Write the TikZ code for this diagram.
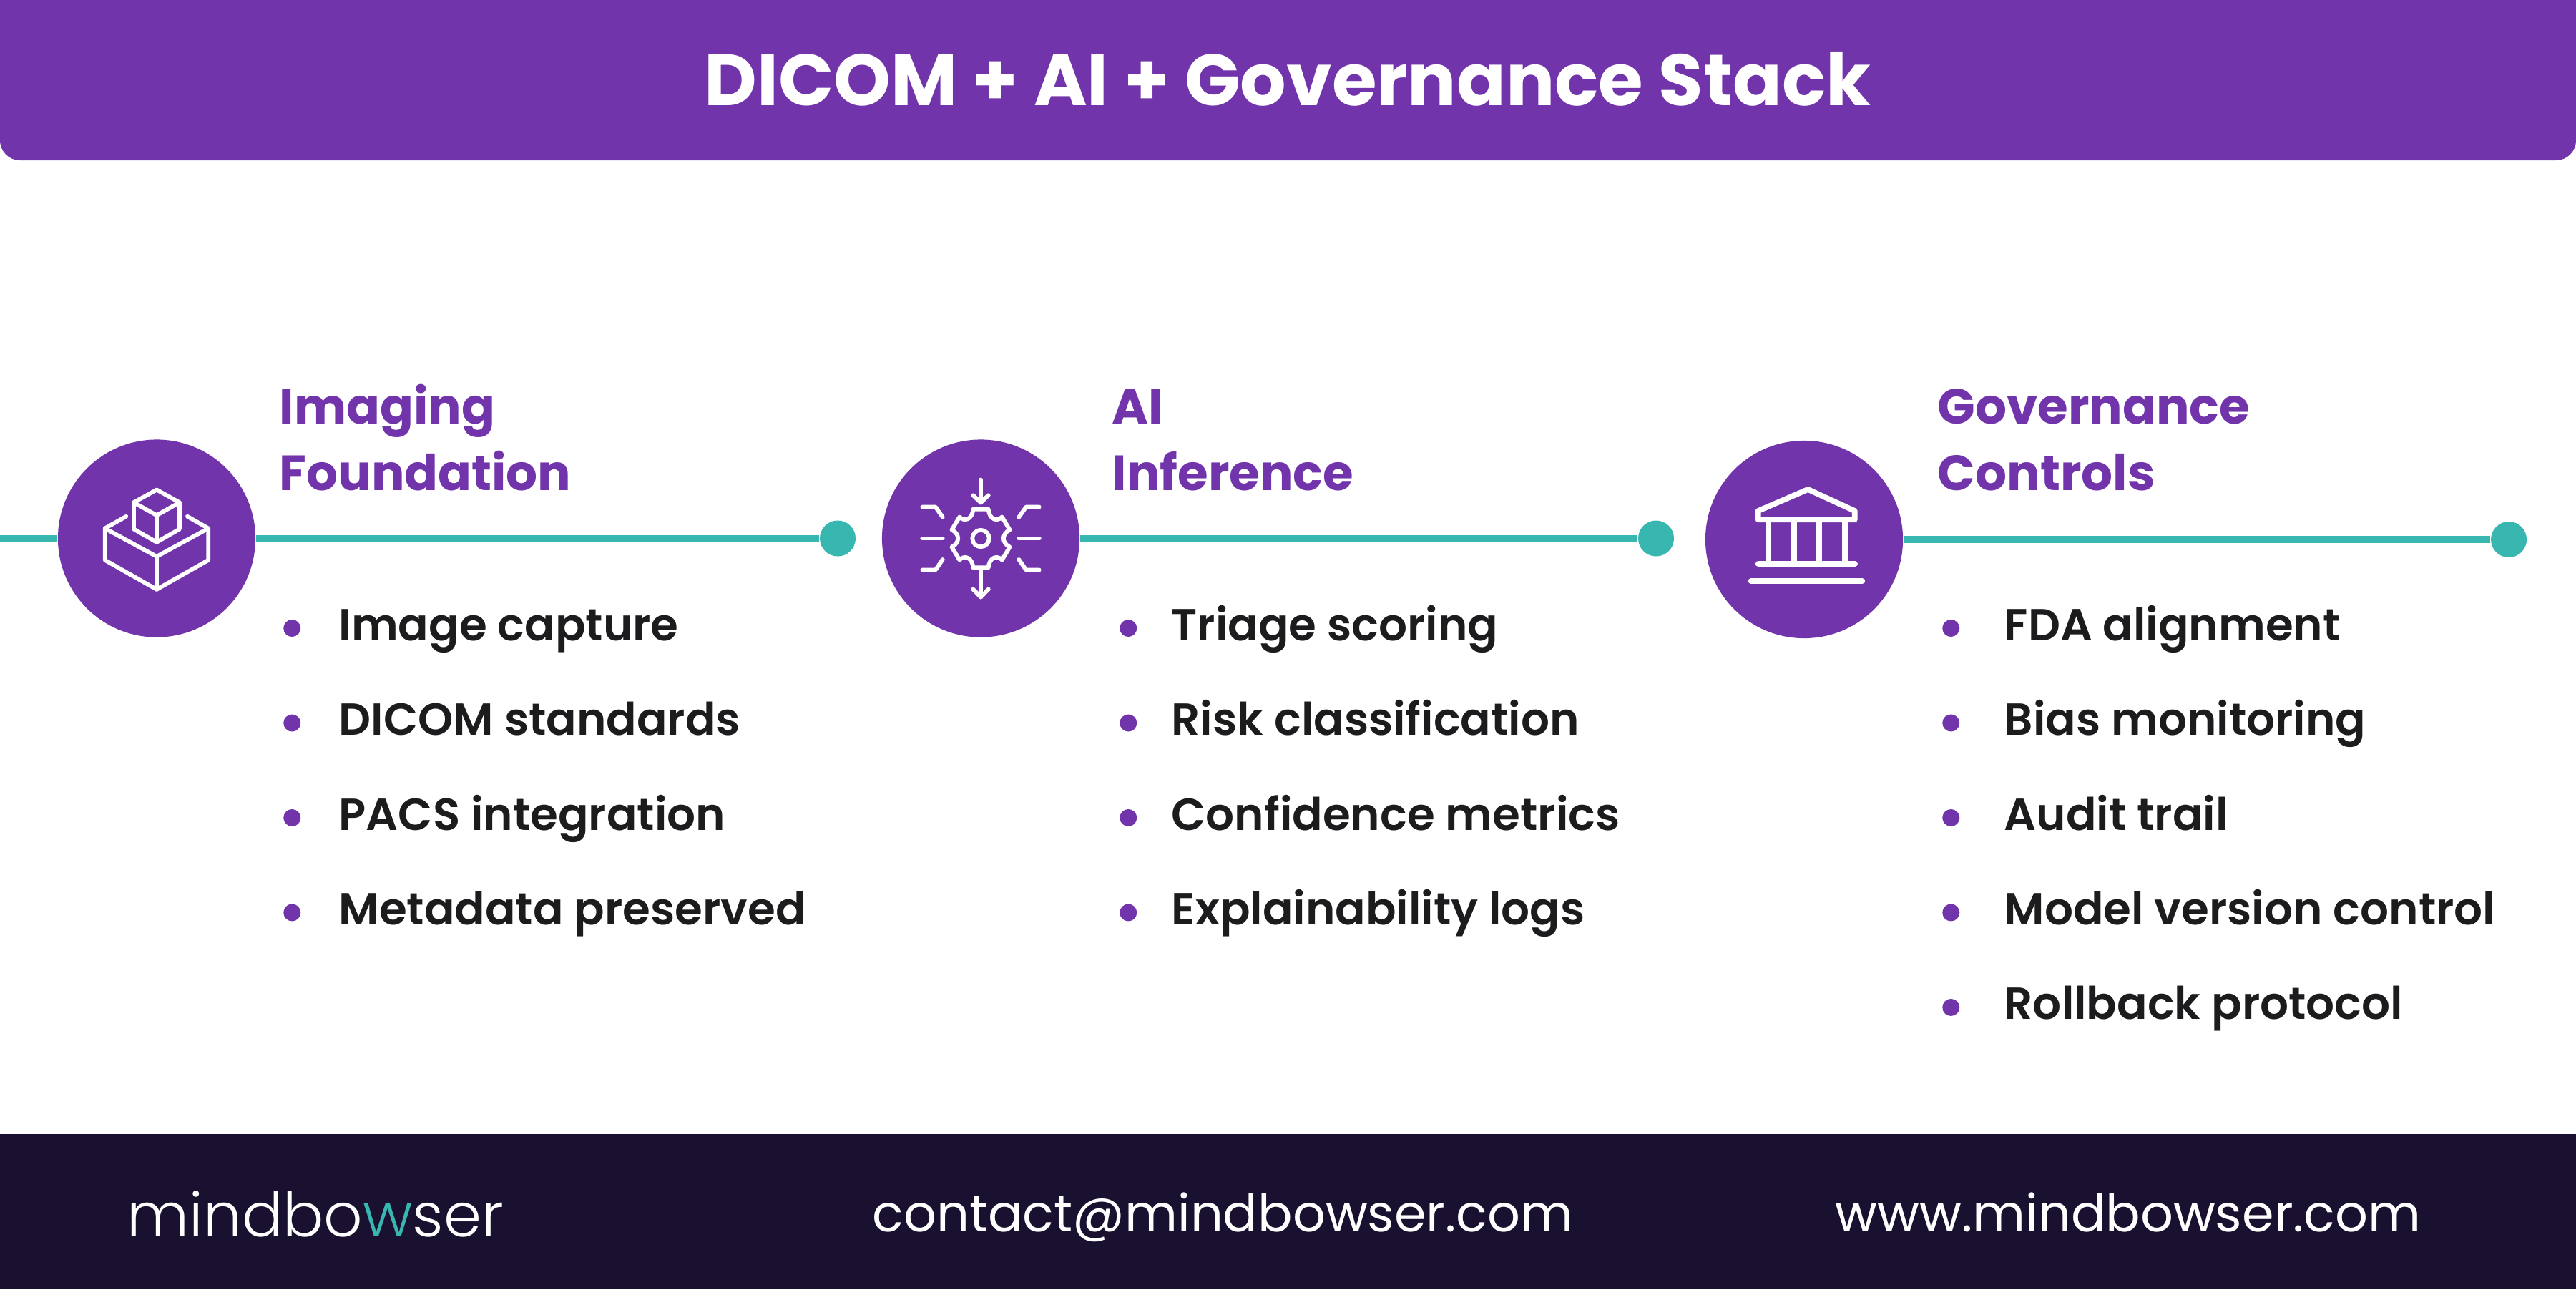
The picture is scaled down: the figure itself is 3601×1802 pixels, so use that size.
\documentclass[tikz,border=0pt]{standalone}
\usepackage{fontspec}
\setmainfont{Poppins}
\newfontfamily\semifont{Poppins SemiBold}
\newfontfamily\lightfont{Poppins Light}
\usetikzlibrary{calc}
\usetikzlibrary{positioning}
\definecolor{plum}{HTML}{7234AB}
\definecolor{lagoon}{HTML}{38B7B0}
\definecolor{ink}{HTML}{1C1C1E}
\definecolor{night}{HTML}{1A1030}

\begin{document}
\begin{tikzpicture}[x=.01cm, y=-.01cm]

                \def\d{.55cm}
                \def\b{.52cm}
                \def\t{.47cm}
                \def\u{.61cm}

                \tikzset{
                    hub/.style={circle, fill=plum, minimum size=2.76cm, inner sep=0},
                    knob/.style={circle, fill=lagoon, minimum size=.5cm, inner sep=0},
                    rail/.style={draw=lagoon, line width=.093cm},
                    head/.style={anchor=south west, inner sep=0, align=left, text=plum,
                        font=\bfseries\fontsize{19.65pt}{26.5pt}\selectfont},
                    item/.style={anchor=west, inner sep=0, text=ink, text height=.55cm, text depth=.21cm,
                        font=\semifont\fontsize{17.85pt}{20pt}\selectfont},
                    bullet/.style={circle, fill=plum, minimum size=.24cm, inner sep=0},
                    glyph/.style={draw=white, line width=.058cm, line cap=round, line join=round},
                    foot/.style={anchor=base west, inner sep=0, text=white,
                        font=\fontsize{20.42pt}{26pt}\selectfont}
                }

                \useasboundingbox (0,0) rectangle (3601,1802);

                % Bands on top and bottom
                \fill[plum] (0,0) [rounded corners=.28cm] -- (0,224) -- (3601,224) [sharp corners] -- (3601,0) -- cycle;
                \fill[night] (0,1585) rectangle (3601,1802);
                \node (title) at (1800,110) [text=white, font=\bfseries\fontsize{28.85pt}{36pt}\selectfont]
                {DICOM + AI + Governance Stack};

                % Hubs and the ends of the rails
                \coordinate (w) at (0,752.5);
                \node (c1) [hub] at (219,752.5) {};
                \node (c2) [hub] at (1371,752.5) {};
                \node (c3) [hub] at (2522,754) {};
                \node (d1) [knob] at (1171,752.5) {};
                \node (d2) [knob] at (2315,752.5) {};
                \node (d3) [knob] at (3507,754) {};

                \begin{scope}[rail]
                    \draw (w) -- (c1);
                    \draw (c1) -- (d1);
                    \draw (c2) -- (d2);
                    \draw (c3) -- (d3);
                \end{scope}

                % Headings
                \node (h1) [head] at (390,687) {Imaging\\Foundation};
                \node (h2) [head] at (1554,687) {AI\\Inference};
                \node (h3) [head] at (2708,687) {Governance\\Controls};

                % First list
                \node (a1) [item] at (473,878) {Image capture};
                \node (a2) [item, below=\d of a1.south west, anchor=north west] {DICOM standards};
                \node (a3) [item, below=\d of a2.south west, anchor=north west] {PACS integration};
                \node (a4) [item, below=\d of a3.south west, anchor=north west] {Metadata preserved};

                % Second list
                \node (e1) [item] at (1637,878) {Triage scoring};
                \node (e2) [item, below=\d of e1.south west, anchor=north west] {Risk classification};
                \node (e3) [item, below=\d of e2.south west, anchor=north west] {Confidence metrics};
                \node (e4) [item, below=\d of e3.south west, anchor=north west] {Explainability logs};

                % Third list
                \node (g1) [item] at (2801,878) {FDA alignment};
                \node (g2) [item, below=\d of g1.south west, anchor=north west] {Bias monitoring};
                \node (g3) [item, below=\d of g2.south west, anchor=north west] {Audit trail};
                \node (g4) [item, below=\d of g3.south west, anchor=north west] {Model version control};
                \node (g5) [item, below=\d of g4.south west, anchor=north west] {Rollback protocol};

                % Bullets
                \node (p1) [bullet, left=\b of a1] {};
                \node (p2) [bullet, left=\b of a2] {};
                \node (p3) [bullet, left=\b of a3] {};
                \node (p4) [bullet, left=\b of a4] {};
                \node (q1) [bullet, left=\t of e1] {};
                \node (q2) [bullet, left=\t of e2] {};
                \node (q3) [bullet, left=\t of e3] {};
                \node (q4) [bullet, left=\t of e4] {};
                \node (r1) [bullet, left=\u of g1] {};
                \node (r2) [bullet, left=\u of g2] {};
                \node (r3) [bullet, left=\u of g3] {};
                \node (r4) [bullet, left=\u of g4] {};
                \node (r5) [bullet, left=\u of g5] {};

                % Blocks icon
                \begin{scope}[shift={(c1.center)}, glyph]
                    \draw (-42.7,-30.7) -- (-72.3,-14) -- (-72.3,30.3) -- (0,71.3) -- (72.3,30.3) -- (72.3,-14) -- (43,-30.7);
                    \draw (-72.3,-14) -- (0,25.3) -- (72.3,-14);
                    \draw (0,25.3) -- (0,71.3);
                    \draw (0,-68) -- (32,-50.3) -- (32,-13) -- (0,5.3) -- (-32,-13) -- (-32,-50.3) -- cycle;
                    \draw (-32,-50.3) -- (0,-32.3) -- (32,-50.3);
                    \draw (0,-32.3) -- (0,5.3);
                \end{scope}

                % Gear icon
                \begin{scope}[shift={(c2.center)}, glyph]
                    \draw (0,-82) -- (0,-50);
                    \draw (-10.7,-60.3) -- (0,-50) -- (10.7,-60.3);
                    \draw (0,42) -- (0,82);
                    \draw (-10.7,71) -- (0,82) -- (10.7,71);
                    \draw (-81.7,0) -- (-53.3,0);
                    \draw (53.3,0) -- (81.7,0);
                    \draw (-81.7,-44) -- (-63.3,-44) -- (-53.3,-29.7);
                    \draw (81.7,-44) -- (63.3,-44) -- (53.3,-29.7);
                    \draw (-81.7,44) -- (-63.3,44) -- (-53.3,29.5);
                    \draw (81.7,44) -- (63.3,44) -- (53.3,29.5);
                    \draw (0,0) circle (11.7);
                    \draw (-10.7,-40.7) -- (10.7,-40.7)
                        .. controls (12,-26) and (23,-23) .. (29.7,-30) -- (40.5,-12)
                        .. controls (29,-6) and (29,6) .. (40.5,12) -- (29.7,30)
                        .. controls (23,23) and (12,26) .. (10.7,40.7) -- (-10.7,40.7)
                        .. controls (-12,26) and (-23,23) .. (-29.7,30) -- (-40.5,12)
                        .. controls (-29,6) and (-29,-6) .. (-40.5,-12) -- (-29.7,-30)
                        .. controls (-23,-23) and (-12,-26) .. (-10.7,-40.7) -- cycle;
                \end{scope}

                % Institution icon
                \begin{scope}[shift={(c3.center)}, glyph, line width=.077cm]
                    \draw (5.3,-70) -- (70.7,-40) -- (70.7,-27.7) -- (-64.3,-27.7) -- (-64.3,-40) -- cycle;
                    \draw (-50,-27.7) -- (-50,33.7);
                    \draw (-14.3,-27.7) -- (-14.3,33.7);
                    \draw (21.3,-27.7) -- (21.3,33.7);
                    \draw (56.7,-27.7) -- (56.7,33.7);
                    \draw (-64.3,33.7) -- (71,33.7);
                    \draw (-74.3,58) -- (81.3,58);
                \end{scope}

                % Footer
                \node (logo) [foot, font=\lightfont\fontsize{24.2pt}{30pt}\selectfont] at (177,1728)
                {mindbo{\color{lagoon}w}ser};
                \node (mail) [foot] at (1219,1721) {contact@mindbowser.com};
                \node (site) [foot] at (2565,1721) {www.mindbowser.com};

\end{tikzpicture}
\end{document}
